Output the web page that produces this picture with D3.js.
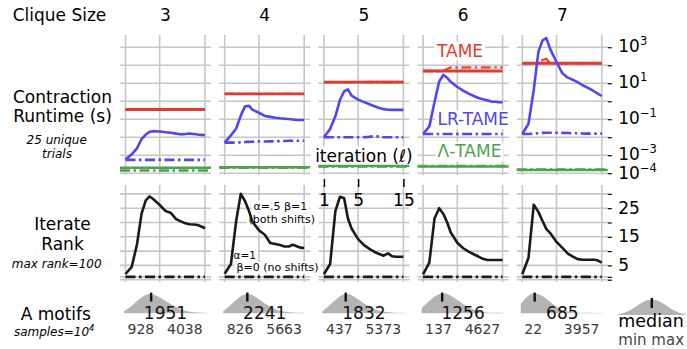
<!DOCTYPE html>
<html><head><meta charset="utf-8">
<script src="https://cdn.jsdelivr.net/npm/d3@7"></script>
<style>
body{margin:0;background:#fff;}
svg{display:block;font-family:"DejaVu Sans",sans-serif;}
</style></head><body>
<svg id="chart" width="687" height="349"></svg>
<script>
// ---------------- data ----------------
const cliqueSizes = [3, 4, 5, 6, 7];
const iterations = [1, 1.5, 2, 2.5, 3, 3.5, 4, 5, 6, 7, 8, 9, 10, 11, 12, 13, 14, 15];
const iterTicks = [1, 5, 15];

// contraction runtime, log10(seconds)
const tameBothLog10 = [-0.46, 0.41, 1.06, 1.68, 2.11];
const tameNoShiftLog10 = [
  [-0.46,-0.46,-0.46,-0.46,-0.46,-0.46,-0.46,-0.46,-0.46,-0.46,-0.46,-0.46,-0.46,-0.46,-0.46,-0.46,-0.46,-0.46],
  [0.41,0.41,0.41,0.41,0.41,0.41,0.41,0.41,0.41,0.41,0.41,0.41,0.41,0.41,0.41,0.41,0.41,0.41],
  [1.06,1.06,1.06,1.06,1.06,1.06,1.06,1.06,1.06,1.07,1.07,1.07,1.07,1.07,1.07,1.07,1.07,1.07],
  [1.68,1.68,1.68,1.68,1.68,1.80,1.87,1.87,1.87,1.87,1.87,1.87,1.87,1.87,1.87,1.87,1.87,1.87],
  [2.11,2.11,2.11,2.14,2.30,2.35,2.12,2.11,2.11,2.11,2.11,2.11,2.11,2.11,2.11,2.11,2.11,2.11]
];
const lrTameBothLog10 = [
  [-3.24,-2.95,-2.62,-2.10,-1.85,-1.70,-1.67,-1.68,-1.72,-1.75,-1.80,-1.84,-1.82,-1.79,-1.82,-1.85,-1.87,-1.89],
  [-2.30,-1.90,-1.52,-0.80,-0.30,-0.25,-0.47,-0.64,-0.82,-0.87,-0.92,-0.95,-0.97,-0.99,-1.02,-1.04,-1.04,-1.04],
  [-2.00,-1.55,-0.84,0.08,0.55,0.66,0.31,0.09,-0.05,-0.17,-0.28,-0.38,-0.44,-0.47,-0.48,-0.48,-0.48,-0.48],
  [-1.82,-1.40,-0.04,1.10,1.46,1.30,1.08,0.79,0.59,0.42,0.29,0.18,0.11,0.05,-0.02,-0.03,-0.05,-0.06],
  [-1.82,-1.25,0.63,2.74,3.38,3.51,2.92,2.18,1.55,1.31,1.19,1.06,0.90,0.78,0.67,0.54,0.41,0.29]
];
const lrTameNoShiftLog10 = [
  [-3.26,-3.26,-3.26,-3.26,-3.26,-3.26,-3.26,-3.26,-3.26,-3.26,-3.26,-3.26,-3.26,-3.26,-3.26,-3.26,-3.26,-3.26],
  [-2.30,-2.30,-2.30,-2.28,-2.27,-2.26,-2.25,-2.24,-2.24,-2.23,-2.22,-2.22,-2.21,-2.20,-2.20,-2.20,-2.20,-2.20],
  [-2.00,-2.00,-2.00,-2.00,-2.00,-2.00,-2.00,-2.00,-2.00,-1.98,-1.94,-1.97,-2.00,-2.00,-2.00,-2.00,-2.00,-2.00],
  [-1.82,-1.82,-1.82,-1.82,-1.82,-1.82,-1.82,-1.82,-1.82,-1.82,-1.82,-1.82,-1.82,-1.82,-1.82,-1.82,-1.82,-1.82],
  [-1.82,-1.82,-1.80,-1.78,-1.76,-1.75,-1.75,-1.75,-1.76,-1.77,-1.78,-1.78,-1.79,-1.80,-1.80,-1.80,-1.80,-1.80]
];
const lambdaBothLog10 = [-3.70, -3.67, -3.60, -3.63, -3.82];
const lambdaNoShiftLog10 = [-3.85, -3.70, -3.62, -3.60, -3.80];

const runtimeTicksLog10 = [-4, -3, -2, -1, 0, 1, 2, 3];
const runtimeLabelsLog10 = [3, 1, -1, -3, -4];

// iterate rank
const rankBoth = [
  [2.0,4.5,12.3,23.1,27.7,29.1,28.2,26.1,24.0,23.3,21.2,20.4,19.7,19.4,19.3,19.1,18.6,18.0],
  [2.1,5.5,20.5,30.0,27.5,24.2,20.3,17.3,15.7,12.8,12.5,12.1,11.6,11.6,12.2,11.7,11.2,11.1],
  [1.9,5.5,24.0,29.0,28.5,21.3,17.9,14.2,12.1,10.8,9.7,9.0,8.4,9.2,8.2,8.0,8.0,8.0],
  [1.9,6.0,21.5,25.0,23.0,20.0,16.5,12.9,11.0,9.8,8.9,8.1,7.3,6.9,6.9,6.9,6.9,6.9],
  [1.9,7.7,26.2,23.7,20.5,17.7,16.4,13.2,11.1,9.1,8.1,7.2,7.0,7.0,7.0,7.0,6.7,6.0]
];
const rankNoShift = [1, 1, 1, 1, 1];
const rankTicks = [0, 1, 5, 10, 15, 20, 25, 30];
const rankLabels = [5, 15, 25];

// A motifs (samples = 10^4)
const motifMin = [928, 826, 437, 137, 22];
const motifMedian = [1951, 2241, 1832, 1256, 685];
const motifMax = [4038, 5663, 5373, 4627, 3957];
const motifDensity = [
  [0.10,0.35,0.75,1.00,0.85,0.60,0.36,0.16,0.06,0.03,0.02],
  [0.10,0.42,0.82,1.00,0.78,0.48,0.24,0.10,0.04,0.02,0.02],
  [0.10,0.42,0.82,1.00,0.78,0.48,0.24,0.10,0.04,0.02,0.02],
  [0.25,0.62,0.95,1.00,0.74,0.44,0.20,0.08,0.03,0.02,0.02],
  [0.45,0.95,1.00,0.74,0.40,0.15,0.05,0.03,0.02,0.02,0.02]
];
const legendDensity = [0.04,0.14,0.34,0.64,0.90,1.00,0.90,0.64,0.34,0.14,0.04];

// ---------------- style ----------------
const RED = "#e8392b", BLUE = "#5046f2", GREEN = "#4ea24f", GRID = "#c6c6c6";
const DASHDOT = "10,3.5,2.5,3.5";

// ---------------- layout ----------------
const svg = d3.select("#chart");
const panelLeft0 = 120, panelStep = 99.2, panelW = 91;
const topY = [175, 35], rankY = [282, 185];

const gridL = svg.append("g");
const textL = svg.append("g");
const dataL = svg.append("g");
const labelL = svg.append("g");

function boxed(g, x, y, str, opts) {
  const t = g.append("text").attr("x", x).attr("y", y).text(str)
    .attr("font-size", opts.size).attr("fill", opts.color || "#000")
    .attr("text-anchor", opts.anchor || "start");
  const bb = t.node().getBBox();
  g.insert("rect", () => t.node())
    .attr("x", bb.x - 2).attr("y", bb.y + 1).attr("width", bb.width + 4).attr("height", bb.height - 1)
    .attr("fill", "#fff");
  return t;
}

const yTop = d3.scaleLog().domain([Math.pow(10, -4.1), Math.pow(10, 3.68)]).range(topY);
const yRank = d3.scaleLinear().domain([-0.8, 33.1]).range(rankY);
const yDens = d3.scaleLinear().domain([0, 1]).range([313.3, 292.6]);

cliqueSizes.forEach((k, p) => {
  const L = panelLeft0 + p * panelStep;
  const x = d3.scaleSqrt().domain([0.642, 16.73]).range([L, L + panelW]);
  const cx = L + panelW / 2;

  // header
  labelL.append("text").attr("x", cx).attr("y", 21).attr("text-anchor", "middle")
    .attr("font-size", 17).text(k);

  // grids
  iterTicks.forEach(t => {
    gridL.append("line").attr("x1", x(t)).attr("x2", x(t)).attr("y1", topY[1]).attr("y2", topY[0])
      .attr("stroke", GRID).attr("stroke-width", 1.6);
    gridL.append("line").attr("x1", x(t)).attr("x2", x(t)).attr("y1", rankY[1]).attr("y2", rankY[0])
      .attr("stroke", GRID).attr("stroke-width", 1.6);
  });
  runtimeTicksLog10.forEach(e => {
    gridL.append("line").attr("x1", L).attr("x2", L + panelW)
      .attr("y1", yTop(Math.pow(10, e))).attr("y2", yTop(Math.pow(10, e)))
      .attr("stroke", GRID).attr("stroke-width", 1.6);
  });
  rankTicks.forEach(v => {
    gridL.append("line").attr("x1", L).attr("x2", L + panelW)
      .attr("y1", yRank(v)).attr("y2", yRank(v))
      .attr("stroke", GRID).attr("stroke-width", 1.6);
  });

  const lineTop = d3.line().x(d => x(d[0])).y(d => yTop(Math.pow(10, d[1])));
  const lineRank = d3.line().x(d => x(d[0])).y(d => yRank(d[1]));
  const zipIt = arr => iterations.map((it, i) => [it, arr[i]]);
  const full = v => [[x.domain()[0], v], [x.domain()[1], v]];

  // Lambda-TAME
  dataL.append("path").attr("d", lineTop(full(lambdaNoShiftLog10[p])))
    .attr("fill", "none").attr("stroke", GREEN).attr("stroke-width", 2.6).attr("stroke-dasharray", DASHDOT);
  dataL.append("path").attr("d", lineTop(full(lambdaBothLog10[p])))
    .attr("fill", "none").attr("stroke", GREEN).attr("stroke-width", 2.6);
  // TAME
  dataL.append("path").attr("d", lineTop(iterations.map(it => [it, tameBothLog10[p]])))
    .attr("fill", "none").attr("stroke", RED).attr("stroke-width", 2.8);
  dataL.append("path").attr("d", lineTop(zipIt(tameNoShiftLog10[p])))
    .attr("fill", "none").attr("stroke", RED).attr("stroke-width", 2.4).attr("stroke-dasharray", DASHDOT)
    .attr("opacity", 0.9);
  // LR-TAME
  dataL.append("path").attr("d", lineTop(zipIt(lrTameNoShiftLog10[p])))
    .attr("fill", "none").attr("stroke", BLUE).attr("stroke-width", 2.6).attr("stroke-dasharray", DASHDOT);
  dataL.append("path").attr("d", lineTop(zipIt(lrTameBothLog10[p])))
    .attr("fill", "none").attr("stroke", BLUE).attr("stroke-width", 2.6).attr("stroke-linejoin", "round");

  // rank
  dataL.append("path").attr("d", lineRank(iterations.map(it => [it, rankNoShift[p]])))
    .attr("fill", "none").attr("stroke", "#1a1a1a").attr("stroke-width", 2.6).attr("stroke-dasharray", DASHDOT);
  dataL.append("path").attr("d", lineRank(zipIt(rankBoth[p])))
    .attr("fill", "none").attr("stroke", "#1a1a1a").attr("stroke-width", 2.6).attr("stroke-linejoin", "round");

  // motif distribution
  const xm = d3.scaleLinear().domain([motifMin[p], motifMax[p]]).range([x(1) - 1.5, x(15) + 1.5]);
  const n = motifDensity[p].length;
  const pts = motifDensity[p].map((h, i) => [motifMin[p] + (motifMax[p] - motifMin[p]) * i / (n - 1), h]);
  const area = d3.area().x(d => xm(d[0])).y0(yDens(0)).y1(d => yDens(d[1])).curve(d3.curveBasis);
  dataL.append("path").attr("d", area(pts)).attr("fill", "#b4b4b4");
  dataL.append("line").attr("x1", xm(motifMedian[p])).attr("x2", xm(motifMedian[p]))
    .attr("y1", 292.6).attr("y2", 301.6).attr("stroke", "#111").attr("stroke-width", 2.4);
  labelL.append("text").attr("x", cx).attr("y", 319).attr("text-anchor", "middle")
    .attr("font-size", 17).attr("fill", "#111").text(motifMedian[p]);
  labelL.append("text").attr("x", x(1) + 2).attr("y", 333.5).attr("text-anchor", "start")
    .attr("font-size", 14).attr("fill", "#3a3a3a").text(motifMin[p]);
  labelL.append("text").attr("x", x(15) - 2.3).attr("y", 333.5).attr("text-anchor", "end")
    .attr("font-size", 14).attr("fill", "#3a3a3a").text(motifMax[p]);

  if (p === 2) {
    // iteration axis
    const ax = labelL.append("g").attr("transform", "translate(0,179)")
      .call(d3.axisBottom(x).tickValues(iterTicks).tickSize(8).tickPadding(7).tickFormat(d3.format("d")));
    ax.select(".domain").remove();
    ax.selectAll("line").attr("stroke", "#000").attr("stroke-width", 1.5);
    ax.selectAll("text").attr("font-size", 17).attr("font-family", "DejaVu Sans").attr("fill", "#000");
    boxed(textL, cx, 161.5, "iteration (\u2113)", {size: 17, anchor: "middle"});
  }
  if (p === 1) {
    boxed(textL, 253.5, 209.5, "\u03b1=.5 \u03b2=1", {size: 11});
    boxed(textL, 248.5, 222.5, "(both shifts)", {size: 11});
    boxed(textL, 233.5, 258.5, "\u03b1=1", {size: 10.5});
    boxed(textL, 236.5, 270.8, "\u03b2=0 (no shifts)", {size: 11});
  }
  if (p === 3) {
    boxed(textL, 437, 56.5, "TAME", {size: 17, color: RED});
    boxed(textL, 437.5, 125, "LR-TAME", {size: 17, color: BLUE});
    boxed(textL, 437.5, 157.4, "\u039b-TAME", {size: 17, color: GREEN});
  }
});

// right axes
const axisX = panelLeft0 + 4 * panelStep + panelW;
const axTop = labelL.append("g").attr("transform", `translate(${axisX},0)`)
  .call(d3.axisRight(yTop).tickValues(runtimeTicksLog10.map(e => Math.pow(10, e))).tickSize(4).tickFormat(""));
axTop.select(".domain").remove();
axTop.selectAll("line").attr("stroke", "#000").attr("stroke-width", 1.2);
runtimeLabelsLog10.forEach(e => {
  const t = labelL.append("text").attr("x", axisX + 10.5).attr("y", yTop(Math.pow(10, e)) + (e === -4 ? 6.2 : 5.0))
    .attr("font-size", 17);
  t.append("tspan").text("10");
  t.append("tspan").attr("dy", -7).attr("font-size", 11.5).text(String(e).replace("-", "\u2212"));
});
const axRank = labelL.append("g").attr("transform", `translate(${axisX},0)`)
  .call(d3.axisRight(yRank).tickValues(rankTicks).tickSize(4).tickFormat(""));
axRank.select(".domain").remove();
axRank.selectAll("line").attr("stroke", "#000").attr("stroke-width", 1.2);
rankLabels.forEach(v => {
  labelL.append("text").attr("x", axisX + 10.5).attr("y", yRank(v) + 5.6)
    .attr("font-size", 17).text(v);
});

// legend for motif distribution
const xl = d3.scaleLinear().domain([0, legendDensity.length - 1]).range([618.3, 685.3]);
const yl = d3.scaleLinear().domain([0, 1]).range([315, 299]);
dataL.append("path").attr("d", d3.area().x((d, i) => xl(i)).y0(yl(0)).y1(d => yl(d)).curve(d3.curveBasis)(legendDensity))
  .attr("fill", "#b4b4b4");
dataL.append("line").attr("x1", xl(5)).attr("x2", xl(5)).attr("y1", 298).attr("y2", 308)
  .attr("stroke", "#111").attr("stroke-width", 2.4);
labelL.append("text").attr("x", 618.3).attr("y", 326.5).attr("font-size", 17.5).text("median");
labelL.append("text").attr("x", 618.3).attr("y", 345).attr("font-size", 15).attr("fill", "#444").text("min max");

// row labels
const rowLab = (x, y, str, size, italic) => labelL.append("text").attr("x", x).attr("y", y)
  .attr("text-anchor", "middle").attr("font-size", size).attr("font-style", italic ? "italic" : "normal").text(str);
rowLab(59.5, 21.2, "Clique Size", 17);
rowLab(62.5, 103, "Contraction", 17);
rowLab(62.5, 121.5, "Runtime (s)", 17);
rowLab(56.7, 143.5, "25 unique", 12, true);
rowLab(57, 158, "trials", 12, true);
rowLab(62.5, 230, "Iterate", 17);
rowLab(62.5, 249.5, "Rank", 17);
rowLab(56.7, 268, "max rank=100", 12, true);
rowLab(55.8, 319.5, "A motifs", 17);
const sm = rowLab(54.2, 335.5, "", 12, true);
sm.append("tspan").text("samples=10");
sm.append("tspan").attr("dy", -5).attr("font-size", 8.5).text("4");
</script>
</body></html>
